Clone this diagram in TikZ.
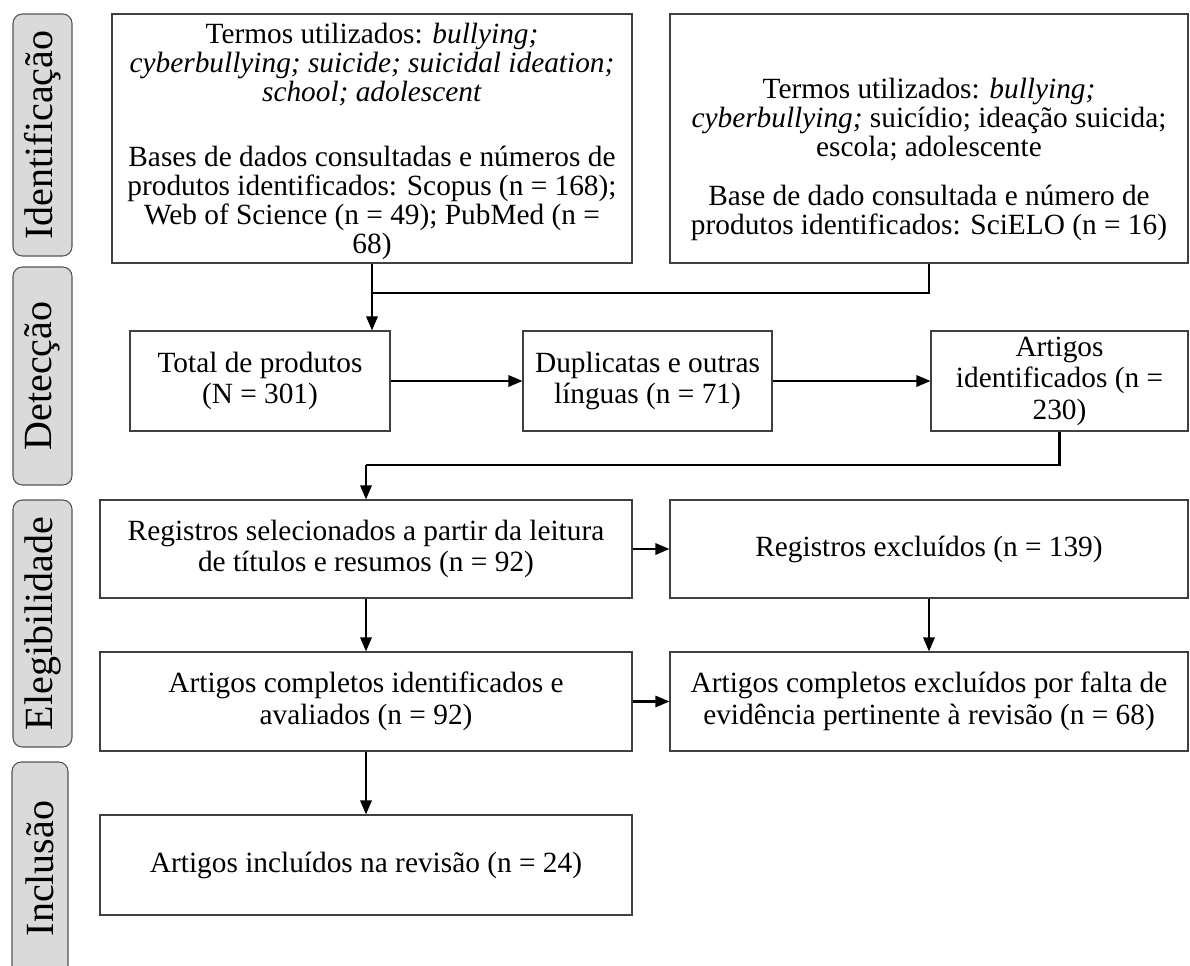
\documentclass[tikz,border=0pt]{standalone}
\usepackage{fontspec}
\setmainfont{Liberation Serif}
\usetikzlibrary{arrows.meta}
\definecolor{sidefill}{HTML}{DADADA}
\definecolor{sideline}{HTML}{555555}
\definecolor{boxline}{HTML}{404040}
\begin{document}
\begin{tikzpicture}[x=0.75pt,y=-0.75pt,
  box/.style={draw=boxline, line width=0.8pt, inner sep=0pt, align=center, font=\fontsize{22}{23.6}\selectfont},
  tall/.style={font=\fontsize{22}{21.75}\selectfont},
  side/.style={draw=sideline, fill=sidefill, line width=0.8pt, rounded corners=7pt, rotate=90, inner sep=0pt, font=\fontsize{30}{32}\selectfont},
  arr/.style={line width=1.6pt, -{Triangle[length=10.5pt,width=8.5pt]}},
  ln/.style={line width=1.6pt}]
\useasboundingbox (0,0) rectangle (1190,965);
\clip (0,0) rectangle (1190,965);
\fill[white] (0,0) rectangle (1190,965);

% side labels
\node[side, minimum width=181.5pt, minimum height=44.25pt] (s1) at (42.5,135) {Identificação};
\node[side, minimum width=163.5pt, minimum height=44.25pt] (s2) at (42.5,376) {Detecção};
\node[side, minimum width=185.25pt, minimum height=44.25pt] (s3) at (42.5,623.5) {Elegibilidade};
\node[side, minimum width=159.75pt, minimum height=42pt] (s4) at (40,868.5) {Inclusão};

% boxes
\node[box, tall, minimum width=390pt, minimum height=186.75pt] (b1) at (372,138.5) {\rule{0pt}{19pt}Termos utilizados: \textit{bullying;}\\
\textit{cyberbullying; suicide; suicidal ideation;}\\
\textit{school; adolescent}\\[27pt]
Bases de dados consultadas e números de\\
produtos identificados: Scopus (n = 168);\\
Web of Science (n = 49); PubMed (n =\\
68)};
\node[box, tall, minimum width=388.5pt, minimum height=186.75pt] (b2) at (929,138.5) {\rule{0pt}{47pt}Termos utilizados: \textit{bullying;}\\
\textit{cyberbullying;} suicídio; ideação suicida;\\
escola; adolescente\\[15pt]
Base de dado consultada e número de\\
produtos identificados: SciELO (n = 16)};
\node[box, minimum width=195pt, minimum height=75pt] (tot) at (260,381) {Total de produtos\\ (N = 301)};
\node[box, minimum width=186.75pt, minimum height=75pt] (dup) at (647.5,381) {Duplicatas e outras\\ línguas (n = 71)};
\node[box, minimum width=192.75pt, minimum height=75pt] (art) at (1059.5,381) {Artigos\\ identificados (n =\\ 230)};
\node[box, minimum width=399pt, minimum height=73.5pt] (reg) at (366,549) {Registros selecionados a partir da leitura\\ de títulos e resumos (n = 92)};
\node[box, minimum width=388.5pt, minimum height=73.5pt] (exc) at (929,549) {Registros excluídos (n = 139)};
\node[box, minimum width=399pt, minimum height=74.25pt] (comp) at (366,701.5) {Artigos completos identificados e\\ avaliados (n = 92)};
\node[box, minimum width=388.5pt, minimum height=74.25pt] (exc2) at (929,701.5) {Artigos completos excluídos por falta de\\ evidência pertinente à revisão (n = 68)};
\node[box, minimum width=399pt, minimum height=75pt] (inc) at (366,865) {Artigos incluídos na revisão (n = 24)};

\coordinate (j1) at (372,293);
\coordinate (j2) at (366,465);

% connectors
\draw[arr] (b1.south) -- (b1.south |- tot.north);
\draw[ln] (b2.south) |- (j1);
\draw[arr] (tot.east) -- (dup.west);
\draw[arr] (dup.east) -- (art.west);
\draw[ln] (art.south) |- (j2);
\draw[arr] (j2) -- (reg.north);
\draw[arr] (reg.east) -- (exc.west);
\draw[arr] (reg.south) -- (comp.north);
\draw[arr] (exc.south) -- (exc2.north);
\draw[arr] (comp.east) -- (exc2.west);
\draw[arr] (comp.south) -- (inc.north);
\end{tikzpicture}
\end{document}
